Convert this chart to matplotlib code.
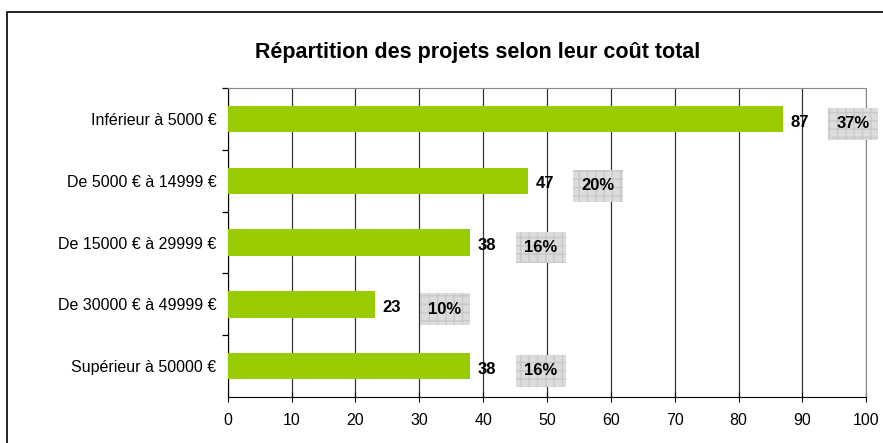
import matplotlib.pyplot as plt
from matplotlib.patches import Rectangle

plt.rcParams['font.family'] = ['Liberation Sans', 'DejaVu Sans']

# data
categories = ["Inférieur à 5000 €", "De 5000 € à 14999 €", "De 15000 € à 29999 €",
              "De 30000 € à 49999 €", "Supérieur à 50000 €"]
counts = [87, 47, 38, 23, 38]
percents = ["37%", "20%", "16%", "10%", "16%"]

fig = plt.figure(figsize=(8.83, 4.43), dpi=100)
ax = fig.add_axes([0.258, 0.104, 0.723, 0.697])

# outer chart frame
fig.patches.append(Rectangle((0.008, -0.1), 1.2, 1.073, transform=fig.transFigure,
                             fill=False, ec='black', lw=1.2))

ypos = list(range(len(categories)))
ax.barh(ypos, counts, height=0.43, color='#99cc00', zorder=3)
ax.set_ylim(len(categories) - 0.5, -0.5)
ax.set_xlim(0, 100)
ax.set_xticks(range(0, 101, 10))
ax.set_yticks(ypos)
ax.set_yticklabels(categories, fontsize=11.5)
ax.set_yticks([y + 0.5 for y in ypos[:-1]] + [-0.5], minor=True)
ax.tick_params(axis='y', which='major', length=0, pad=8)
ax.tick_params(axis='y', which='minor', length=4, width=0.9)
ax.tick_params(axis='x', direction='inout', length=7, labelsize=11.5, pad=8)
ax.xaxis.grid(True, color='#333333', lw=0.9, zorder=1)

for s in ['top', 'right']:
    ax.spines[s].set_color('#888888')
ax.spines['left'].set_color('black')
ax.spines['bottom'].set_color('black')

for y, c, p in zip(ypos, counts, percents):
    ax.text(c + 1.2, y + 0.05, str(c), va='center', ha='left',
            fontsize=12, fontweight='bold', zorder=4)
    ax.text(c + 11, y + 0.08, p, va='center', ha='center', fontsize=12,
            fontweight='bold', zorder=4,
            bbox=dict(boxstyle='square,pad=0.5', fc='#dcdcdc', ec='#c8c8c8',
                      hatch='++', lw=0))

fig.text(0.541, 0.882, "Répartition des projets selon leur coût total",
         ha='center', va='center', fontsize=15.5, fontweight='bold')

fig.savefig("out.png", dpi=100)
